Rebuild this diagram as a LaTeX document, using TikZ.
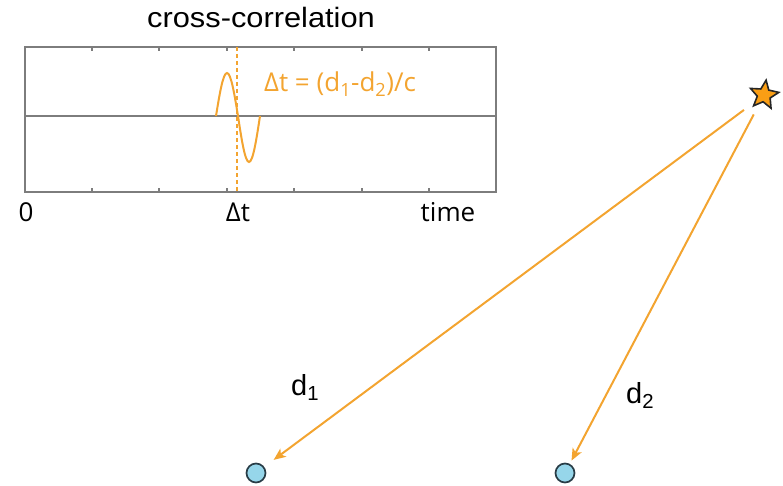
\documentclass[tikz,border=0pt]{standalone}
\usepackage{fontspec}
\setmainfont{Liberation Sans}
\newfontfamily\myr{Open Sans}
\usetikzlibrary{shapes.geometric,arrows.meta}
\definecolor{orng}{RGB}{243,164,48}
\definecolor{starfill}{RGB}{250,158,20}
\definecolor{axgray}{RGB}{125,125,125}
\definecolor{recfill}{RGB}{150,214,234}
\definecolor{recline}{RGB}{40,60,70}
\tikzset{
  axline/.style={draw=axgray, line width=1.5pt},
  tickline/.style={draw=axgray, line width=1.1pt},
  wave/.style={draw=orng, line width=2pt},
  ray/.style={draw=orng, line width=2pt, -{Stealth[length=12pt,width=10pt,inset=3pt]}},
  receiver/.style={circle, fill=recfill, draw=recline, line width=1.7pt, minimum size=19pt, inner sep=0pt},
  source/.style={star, star points=5, star point ratio=2.2, fill=starfill, draw=black!85, line width=1.6pt, minimum size=30pt, inner sep=0pt, rotate=-8},
  lbl/.style={inner sep=0pt, anchor=base},
  ptext/.style={font=\myr\fontsize{26}{30}\selectfont},
  dtext/.style={font=\fontsize{29}{33}\selectfont}
}
\begin{document}
\begin{tikzpicture}[x=1pt, y=-1pt]
\useasboundingbox (0,0) rectangle (783,486);
% title
\node[lbl, font=\fontsize{28}{32}\selectfont] (title) at (261,28) {\scalebox{1.1}[1]{cross-correlation}};
% plot box
\draw[axline] (25,47) rectangle (496,192);
\draw[axline] (25,116) -- (496,116);
\foreach \x in {92,159,227,294,362,429} {
  \draw[tickline] (\x,192) -- (\x,188);
  \draw[tickline] (\x,47) -- (\x,51);
}
% dashed marker
\draw[draw=orng, line width=1.5pt, dash pattern=on 4pt off 3pt] (237,47) -- (237,192);
% wavelet
\draw[wave] (216,116) sin (227,73) cos (238,116) sin (249,162) cos (260,116);
% formula
\node[lbl, ptext, text=orng, anchor=base west] (formula) at (264,92) {Δt = (d\textsubscript{1}-d\textsubscript{2})/c};
% axis labels
\node[lbl, ptext] (zero) at (26,222) {0};
\node[lbl, ptext] (dt) at (238,222) {Δt};
\node[lbl, ptext] (time) at (448,222) {time};
% source and receivers
\node[source] (src) at (764,95) {};
\node[receiver] (r1) at (256,473) {};
\node[receiver] (r2) at (565,473) {};
\draw[ray, shorten <=25pt, shorten >=22pt] (src.center) -- (r1.center);
\draw[ray, shorten <=22pt, shorten >=14pt] (src.center) -- (r2.center);
% distance labels
\node[lbl, dtext, anchor=base west] (d1) at (291,395) {d\textsubscript{1}};
\node[lbl, dtext, anchor=base west] (d2) at (626,403) {d\textsubscript{2}};
\end{tikzpicture}
\end{document}
